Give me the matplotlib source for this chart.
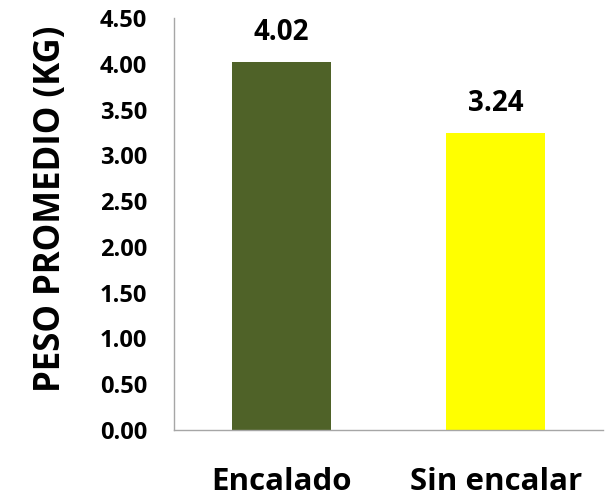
import matplotlib
matplotlib.use("Agg")
import matplotlib.pyplot as plt
import numpy as np

categories = ["Encalado", "Sin encalar"]
peso_promedio = [4.02, 3.24]
bar_colors = ["#4F6228", "#FFFF00"]
y_ticks = [0.0, 0.5, 1.0, 1.5, 2.0, 2.5, 3.0, 3.5, 4.0, 4.5]

plt.rcParams["font.family"] = ["Open Sans", "DejaVu Sans"]
plt.rcParams["font.weight"] = "bold"

fig = plt.figure(figsize=(6.16, 5.0), dpi=100)
ax = fig.add_axes([174 / 616, 1 - 430 / 500, 429 / 616, 412 / 500])

x = np.arange(len(categories))
ax.bar(x, peso_promedio, width=0.46, color=bar_colors, zorder=2)

for xi, v in zip(x, peso_promedio):
    ax.annotate(f"{v:.2f}", (xi, v), xytext=(0, 11), textcoords="offset points",
                ha="center", va="bottom", fontsize=20, fontweight="bold")

ax.set_xlim(-0.5, 1.5)
ax.set_ylim(0, 4.5)
ax.set_yticks(y_ticks)
ax.set_yticklabels([f"{t:.2f}" for t in y_ticks], fontsize=17, fontweight="bold")
ax.set_xticks(x)
ax.set_xticklabels(categories, fontsize=22.5, fontweight="bold")
ax.tick_params(axis="both", length=0)
ax.tick_params(axis="y", pad=19.5)
ax.tick_params(axis="x", pad=27)

for side in ["top", "right"]:
    ax.spines[side].set_visible(False)
for side in ["left", "bottom"]:
    ax.spines[side].set_color("#A6A6A6")
    ax.spines[side].set_linewidth(1.0)

ax.set_ylabel("PESO PROMEDIO (KG)", fontsize=25, fontweight="bold", va="center")
ax.yaxis.set_label_coords(-0.286, 0.536)

fig.savefig("out.png", dpi=100, facecolor="white")
